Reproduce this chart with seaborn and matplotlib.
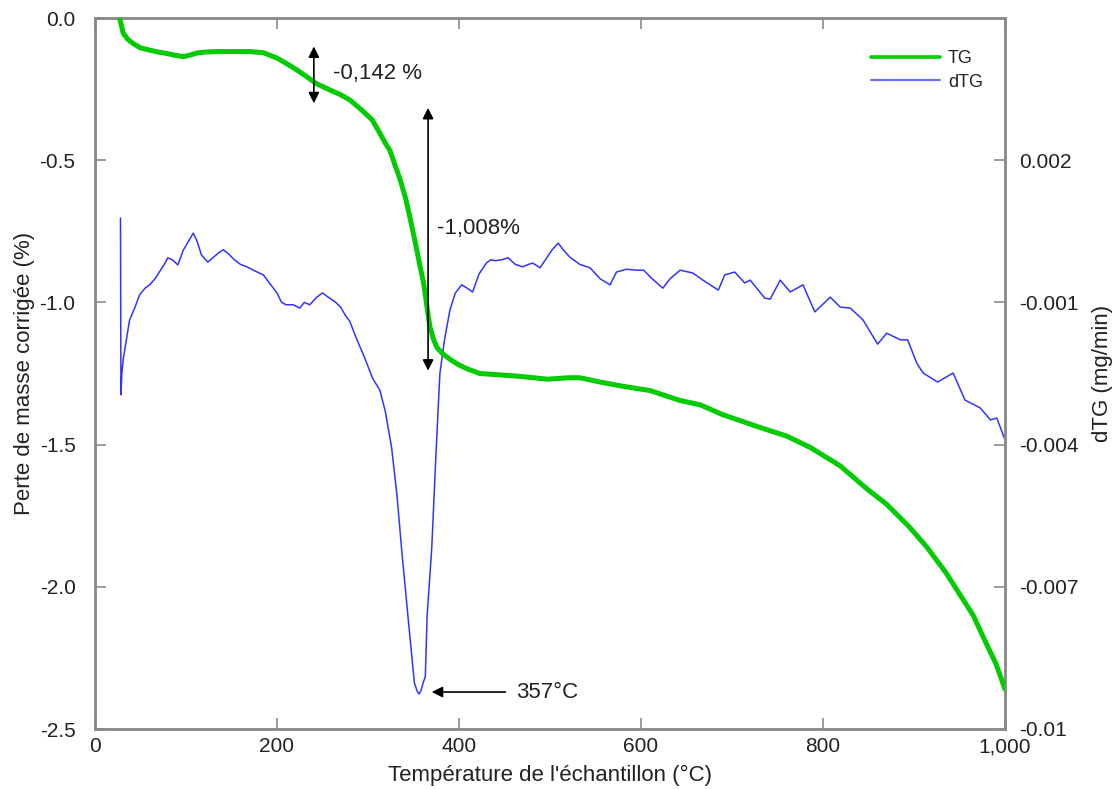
import numpy as np
import pandas as pd
import matplotlib
matplotlib.use("Agg")
import matplotlib.pyplot as plt
import seaborn as sns
from matplotlib.ticker import FixedLocator

# ---------------- data ----------------
tg_temp = [27, 31, 36, 42, 50, 60, 70, 79, 88, 97, 105, 112, 120, 135, 150, 170, 185, 200,
           212, 222, 232, 243, 258, 270, 280, 290, 297, 305, 313, 319, 324, 330, 335, 341,
           346, 352, 357, 361, 365, 368, 372, 376, 382, 390, 400, 410, 423, 445, 467, 497,
           520, 533, 555, 580, 610, 643, 665, 690, 731, 760, 786, 819, 848, 870, 895, 914,
           935, 951, 965, 978, 990, 1000]
tg_vals = [0.0, -0.053, -0.075, -0.09, -0.105, -0.113, -0.12, -0.125, -0.131, -0.136, -0.13,
           -0.123, -0.12, -0.118, -0.118, -0.118, -0.122, -0.141, -0.163, -0.183, -0.205,
           -0.23, -0.253, -0.27, -0.288, -0.315, -0.335, -0.36, -0.405, -0.44, -0.465, -0.52,
           -0.565, -0.63, -0.7, -0.79, -0.87, -0.93, -1.02, -1.085, -1.13, -1.16, -1.18,
           -1.2, -1.22, -1.235, -1.25, -1.255, -1.26, -1.27, -1.265, -1.265, -1.28, -1.295,
           -1.31, -1.345, -1.36, -1.395, -1.44, -1.47, -1.51, -1.575, -1.655, -1.71, -1.79,
           -1.86, -1.95, -2.03, -2.1, -2.19, -2.27, -2.36]

dtg_temp = [28, 28.5, 29.5, 31, 38, 44, 49, 55, 60, 66, 71, 76, 80, 85, 91, 97, 103, 108, 112,
            117, 124, 130, 136, 141, 147, 153, 160, 167, 175, 185, 192, 200, 205, 210, 218,
            225, 230, 236, 243, 250, 257, 264, 270, 275, 280, 286, 297, 305, 313, 319, 326,
            332, 337, 344, 351, 354, 356, 358, 361, 363, 365, 370, 375, 379, 384, 390, 396,
            403, 409, 415, 422, 430, 435, 440, 447, 454, 462, 470, 476, 481, 489, 495, 502,
            509, 515, 522, 533, 544, 555, 566, 573, 584, 595, 603, 610, 624, 632, 643, 657,
            668, 685, 692, 703, 714, 720, 736, 742, 753, 764, 778, 791, 808, 819, 830, 844,
            860, 870, 885, 893, 903, 910, 926, 943, 956, 973, 984, 991, 1000]
dtg_vals = [0.00078, -0.00295, -0.0025, -0.0022, -0.00137, -0.0011, -0.00084, -0.0007,
            -0.00063, -0.0005, -0.00035, -0.0002, -0.00006, -0.0001, -0.00021, 0.0001, 0.0003,
            0.00046, 0.0003, 0.0, -0.00015, -0.00005, 0.00005, 0.00011, 0.00002, -0.0001,
            -0.0002, -0.00025, -0.00033, -0.00042, -0.0006, -0.0008, -0.001, -0.00105,
            -0.00105, -0.00112, -0.001, -0.00105, -0.0009, -0.0008, -0.0009, -0.00099,
            -0.0011, -0.00127, -0.0014, -0.0017, -0.0022, -0.0026, -0.00285, -0.0033,
            -0.00407, -0.0051, -0.00622, -0.00764, -0.00903, -0.0092, -0.00926, -0.0092,
            -0.009, -0.0089, -0.0076, -0.0062, -0.00407, -0.0025, -0.0018, -0.00116,
            -0.0008, -0.00063, -0.0007, -0.00078, -0.0004, -0.00017, -0.0001, -0.00012,
            -0.0001, -0.00006, -0.0002, -0.00025, -0.0002, -0.00017, -0.00027, -0.0001,
            0.0001, 0.00025, 0.0001, -0.00005, -0.0002, -0.00027, -0.0005, -0.00063,
            -0.00036, -0.0003, -0.00032, -0.00032, -0.00046, -0.0007, -0.0005, -0.00032,
            -0.00038, -0.00053, -0.00074, -0.00042, -0.00036, -0.00059, -0.00053, -0.00091,
            -0.00093, -0.00053, -0.00078, -0.00063, -0.0012, -0.00089, -0.0011, -0.00112,
            -0.00137, -0.00188, -0.00165, -0.00179, -0.00179, -0.00228, -0.00249, -0.00268,
            -0.00249, -0.00306, -0.00323, -0.00348, -0.00344, -0.0039]

x_ticks = [0, 200, 400, 600, 800, 1000]
x_ticklabels = ["0", "200", "400", "600", "800", "1,000"]
left_ticks = [0.0, -0.5, -1.0, -1.5, -2.0, -2.5]
left_ticklabels = ["0.0", "-0.5", "-1.0", "-1.5", "-2.0", "-2.5"]
right_ticks = [0.002, -0.001, -0.004, -0.007, -0.01]
right_ticklabels = ["0.002", "-0.001", "-0.004", "-0.007", "-0.01"]

# ---------------- style ----------------
sns.set_style("ticks")
plt.rcParams["font.family"] = ["Liberation Sans", "DejaVu Sans"]
plt.rcParams["text.color"] = "#222222"

GREEN = "#00cc00"
BLUE = "#3333ff"
GRAY = "#8a8a8a"

fig = plt.figure(figsize=(11.13, 7.89), dpi=100)
ax = fig.add_axes([95 / 1113, 1 - 729 / 789, 910 / 1113, 711 / 789])
ax2 = ax.twinx()

df_tg = pd.DataFrame({"T": tg_temp, "v": tg_vals})
df_dtg = pd.DataFrame({"T": dtg_temp, "v": dtg_vals})

sns.lineplot(data=df_tg, x="T", y="v", ax=ax, color=GREEN, lw=3.6, label="TG",
             legend=False, zorder=3, sort=False)
sns.lineplot(data=df_dtg, x="T", y="v", ax=ax2, color=BLUE, lw=1.1, label="dTG",
             legend=False, zorder=2, sort=False)

ax.set_zorder(ax2.get_zorder() + 1)
ax.patch.set_visible(False)

ax.set_xlim(0, 1000)
ax.set_ylim(-2.5, 0.0)
ax2.set_ylim(-0.01, 0.005)

ax.xaxis.set_major_locator(FixedLocator(x_ticks))
ax.set_xticklabels(x_ticklabels)
ax.yaxis.set_major_locator(FixedLocator(left_ticks))
ax.set_yticklabels(left_ticklabels)
ax2.yaxis.set_major_locator(FixedLocator(right_ticks))
ax2.set_yticklabels(right_ticklabels)

for a in (ax, ax2):
    for s in a.spines.values():
        s.set_color(GRAY)
        s.set_linewidth(1.8)
        s.set_visible(True)

ax.tick_params(axis="x", direction="in", length=8, width=1.2, color=GRAY, top=True,
               labelsize=15, pad=6, labelcolor="#222222")
ax.tick_params(axis="y", direction="in", length=8, width=1.2, color=GRAY, right=False,
               labelsize=15, pad=14, labelcolor="#222222")
ax2.tick_params(axis="y", direction="in", length=8, width=1.2, color=GRAY,
                labelsize=15, pad=10, labelcolor="#222222")

ax.set_xlabel("Température de l'échantillon (°C)", fontsize=16, labelpad=6, color="#222222")
ax.set_ylabel("Perte de masse corrigée (%)", fontsize=16, labelpad=3, color="#222222")
ax2.set_ylabel("dTG (mg/min)", fontsize=16, labelpad=10, rotation=90, color="#222222")

# ---------------- annotations ----------------
arrow_kw = dict(arrowstyle="<|-|>", color="black", lw=1.2, mutation_scale=16,
                shrinkA=0, shrinkB=0)
ax.annotate("", xy=(240.5, -0.10), xytext=(240.5, -0.30), arrowprops=arrow_kw)
ax.text(261, -0.195, "-0,142 %", fontsize=16, va="center", ha="left", color="#222222")
ax.annotate("", xy=(366, -0.316), xytext=(366, -1.24), arrowprops=arrow_kw)
ax.text(376, -0.74, "-1,008%", fontsize=16, va="center", ha="left", color="#222222")
ax.annotate("", xy=(370, -2.37), xytext=(451, -2.37),
            arrowprops=dict(arrowstyle="-|>", color="black", lw=1.2, mutation_scale=16,
                            shrinkA=0, shrinkB=0))
ax.text(463, -2.37, "357°C", fontsize=16, va="center", ha="left", color="#222222")

# ---------------- legend ----------------
h1, l1 = ax.get_legend_handles_labels()
h2, l2 = ax2.get_legend_handles_labels()
leg = fig.legend(h1 + h2, l1 + l2, loc="upper left",
                 bbox_to_anchor=(855 / 1113, 1 - 34 / 789), frameon=False,
                 fontsize=13, handlelength=3.8, handletextpad=0.45, labelspacing=0.35)
lines = leg.get_lines()
lines[0].set_linewidth(2.6)
lines[1].set_linewidth(1.6)
lines[1].set_color("#6f6fff")

fig.savefig("out.png", dpi=100)
